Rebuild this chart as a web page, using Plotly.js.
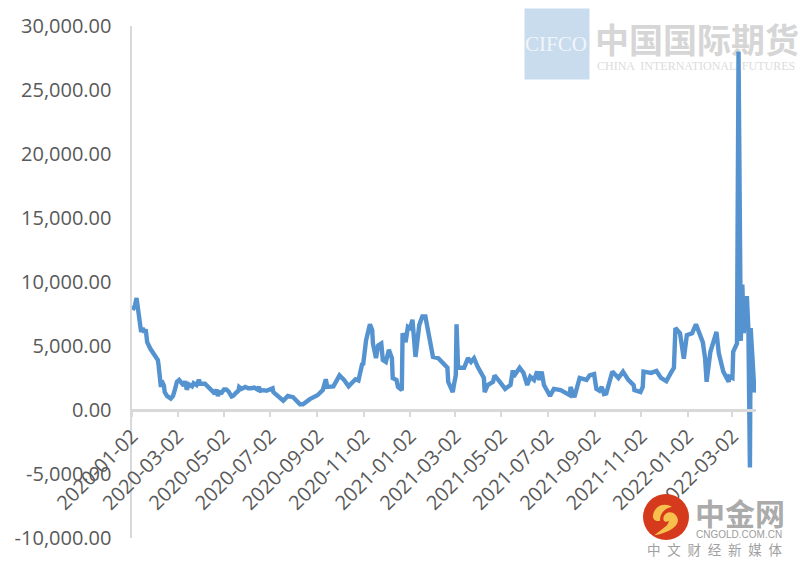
<!DOCTYPE html>
<html>
<head>
<meta charset="utf-8">
<script src="https://cdn.plot.ly/plotly-3.0.1.min.js"></script>
<style>html,body{margin:0;padding:0;background:#fff}#chart{width:800px;height:566px}</style>
</head>
<body>
<div id="chart"></div>
<script>
const dates2020a = ["2020-01-03","2020-01-06","2020-01-08","2020-01-10","2020-01-12","2020-01-14","2020-01-16","2020-01-18","2020-01-20","2020-01-22","2020-01-26","2020-02-01","2020-02-05","2020-02-06","2020-02-08","2020-02-09","2020-02-10","2020-02-13","2020-02-14","2020-02-17","2020-02-22","2020-02-25","2020-02-28","2020-03-01","2020-03-04","2020-03-08","2020-03-10","2020-03-12","2020-03-14","2020-03-17","2020-03-21","2020-03-23","2020-03-27","2020-03-30","2020-04-01","2020-04-07","2020-04-11","2020-04-15","2020-04-18","2020-04-20","2020-04-22","2020-04-24","2020-04-26","2020-04-29","2020-05-02","2020-05-05","2020-05-08","2020-05-12","2020-05-14","2020-05-18","2020-05-21","2020-05-22","2020-05-25","2020-05-30","2020-06-03","2020-06-07","2020-06-11","2020-06-15","2020-06-17","2020-06-19","2020-06-23","2020-06-27","2020-07-01","2020-07-05","2020-07-06","2020-07-11","2020-07-19","2020-07-25","2020-08-01","2020-08-10","2020-08-14","2020-08-23","2020-09-02","2020-09-09","2020-09-13","2020-09-15","2020-09-23","2020-10-01","2020-10-07","2020-10-13"];
const values2020a = [7800,8200,8750,7800,6800,6100,6400,6050,6300,5300,4800,4300,3900,3500,2000,1800,2300,1900,1400,1100,900,1100,1700,2200,2350,2100,1900,2250,1600,2000,1850,2100,1950,2350,2050,2050,1850,1550,1400,1250,1600,1100,1400,1350,1600,1600,1450,1050,1100,1350,1500,1800,1650,1800,1700,1700,1750,1600,1800,1500,1550,1500,1650,1700,1400,1150,730,1100,1000,450,450,850,1150,1550,2400,1800,1850,2700,2350,1850];
const dates2020b = ["2020-10-22","2020-10-26","2020-10-31","2020-11-01","2020-11-05","2020-11-10","2020-11-13","2020-11-14","2020-11-18","2020-11-21","2020-11-25","2020-11-27","2020-12-01","2020-12-05","2020-12-09","2020-12-10","2020-12-15","2020-12-17","2020-12-22","2020-12-23","2020-12-27","2020-12-30"];
const values2020b = [2400,2300,3650,3500,5450,6700,6250,5200,4050,5050,5200,3900,3750,4700,4050,2500,2350,1800,1550,6000,5300,6500];
const dates2021 = ["2021-01-02","2021-01-05","2021-01-09","2021-01-14","2021-01-18","2021-01-22","2021-01-29","2021-02-01","2021-02-08","2021-02-15","2021-02-20","2021-02-21","2021-02-27","2021-03-01","2021-03-03","2021-03-04","2021-03-06","2021-03-14","2021-03-19","2021-03-23","2021-03-27","2021-04-01","2021-04-05","2021-04-09","2021-04-10","2021-04-14","2021-04-21","2021-04-23","2021-04-30","2021-05-07","2021-05-14","2021-05-17","2021-05-18","2021-05-26","2021-05-31","2021-06-05","2021-06-09","2021-06-14","2021-06-18","2021-06-21","2021-06-24","2021-06-27","2021-07-05","2021-07-10","2021-07-19","2021-07-26","2021-07-31","2021-08-01","2021-08-06","2021-08-13","2021-08-22","2021-08-26","2021-09-01","2021-09-04","2021-09-08","2021-09-11","2021-09-14","2021-09-17","2021-09-25","2021-10-03","2021-10-09","2021-10-16","2021-10-23","2021-10-24","2021-11-01","2021-11-04","2021-11-05","2021-11-15","2021-11-22","2021-11-28","2021-12-05","2021-12-11","2021-12-15","2021-12-17","2021-12-20","2021-12-23","2021-12-28"];
const values2021 = [6400,7050,4150,6650,7300,7300,4900,4150,4050,3650,3300,2200,1400,2100,2700,6700,3300,3300,4050,3750,4050,3350,3000,2500,1400,1950,2200,2700,2200,1650,1950,3100,2600,3300,2900,1950,2600,2350,3000,2350,3000,1950,1100,1650,1550,1300,1150,1800,1000,2500,2350,2700,2800,1650,1500,1800,1250,1300,3000,2500,3000,2350,1950,1550,1400,1800,3000,2900,3050,2500,2250,2900,3300,6400,6250,6000,4000];
const dates2022 = ["2022-01-01","2022-01-08","2022-01-13","2022-01-22","2022-01-25","2022-01-27","2022-02-01","2022-02-09","2022-02-12","2022-02-18","2022-02-25","2022-02-26","2022-03-02","2022-03-03","2022-03-08","2022-03-10","2022-03-13","2022-03-15","2022-03-17","2022-03-18","2022-03-20","2022-03-21","2022-03-23","2022-03-25","2022-03-26","2022-03-31","2022-04-01"];
const values2022 = [5850,6000,6700,5300,4050,2200,4550,6100,4450,3000,2200,2600,2500,4550,5200,28000,5400,9800,6000,8300,6200,8900,6300,-4500,6400,1400,1600];
const xTicks = ["2020-01-02","2020-03-02","2020-05-02","2020-07-02","2020-09-02","2020-11-02","2021-01-02","2021-03-02","2021-05-02","2021-07-02","2021-09-02","2021-11-02","2022-01-02","2022-03-02"];
const yTicks = [-10000,-5000,0,5000,10000,15000,20000,25000,30000];
const yLabels = ["-10,000.00","-5,000.00","0.00","5,000.00","10,000.00","15,000.00","20,000.00","25,000.00","30,000.00"];

const dates = [...dates2020a, ...dates2020b, ...dates2021, ...dates2022];
const values = [...values2020a, ...values2020b, ...values2021, ...values2022];

const L = 132, T = 26, W = 624, H = 512;
const px = x => (x - L) / W;
const py = y => (T + H - y) / H;
const zp = (cmd, pts) => cmd + pts.map(p => {
  const x = 600 + p[0] / 3, y = 470 + p[1] / 3;
  return px(x).toFixed(5) + ' ' + py(y).toFixed(5);
}).join(' ');
const note = (x, y, text, size, color, family, extra) => Object.assign({
  xref: 'paper', yref: 'paper', x: px(x), y: py(y), text, showarrow: false,
  xanchor: 'left', yanchor: 'middle', borderpad: 0,
  font: {size, color, family}
}, extra || {});

const swirlTail = zp('M', [[163,196]]) + zp('C', [[215,186],[250,160],[226,134]]) + zp('C', [[214,122],[196,126],[191,140]]) + zp('C', [[187,153],[198,160],[206,152]]) + zp('C', [[208,166],[186,176],[163,196]]) + 'Z';
const swirlBlob = zp('M', [[160,132]]) + zp('C', [[165,106],[196,97],[216,111]]) + zp('C', [[200,113],[180,125],[180,152]]) + zp('C', [[166,156],[155,146],[160,132]]) + 'Z';

const layout = {
  width: 800, height: 566,
  margin: {l: L, r: 800 - L - W, t: T, b: 566 - T - H, pad: 0},
  paper_bgcolor: 'rgba(0,0,0,0)', plot_bgcolor: 'rgba(0,0,0,0)',
  showlegend: false,
  xaxis: {
    type: 'date', range: ['2020-01-02', '2022-04-02'],
    anchor: 'free', position: 0.25,
    tickmode: 'array', tickvals: xTicks, ticktext: xTicks,
    tickangle: -45, ticks: 'outside', ticklen: 5, tickwidth: 2, tickcolor: '#d9d9d9',
    showline: true, linecolor: '#d9d9d9', linewidth: 2.5, showgrid: false, zeroline: false,
    tickfont: {family: '"Open Sans", sans-serif', size: 20, color: '#595959'}
  },
  yaxis: {
    range: [-10000, 30000], tickmode: 'array', tickvals: yTicks, ticktext: yLabels,
    showline: true, linecolor: '#d9d9d9', linewidth: 2.5, showgrid: false, zeroline: false,
    ticks: '', ticklen: 0, ticklabelstandoff: 14,
    tickfont: {family: '"Open Sans", sans-serif', size: 20, color: '#595959'}
  },
  shapes: [
    {type: 'circle', layer: 'above', xref: 'paper', yref: 'paper', x0: px(643), x1: px(689), y0: py(540), y1: py(494), fillcolor: '#d63a1c', line: {width: 0}},
    {type: 'path', layer: 'above', xref: 'paper', yref: 'paper', path: swirlTail, fillcolor: '#f7c04e', line: {width: 0}},
    {type: 'path', layer: 'above', xref: 'paper', yref: 'paper', path: swirlBlob, fillcolor: '#f7c04e', line: {width: 0}}
  ],
  annotations: [
    note(524, 44, 'CIFCO', 21, '#f1f5fa', '"Liberation Serif", serif', {width: 64, height: 70, align: 'left', valign: 'middle', bgcolor: '#c9dcee'}),
    note(594, 38, '中国国际期货', 34, '#d6d6d6', '"Noto Sans CJK SC", sans-serif', {font: {size: 34, color: '#d6d6d6', family: '"Noto Sans CJK SC", sans-serif', weight: 700}}),
    note(596, 66, 'CHINA  INTERNATIONAL  FUTURES', 12, '#dcdcdc', '"Liberation Serif", serif'),
    note(694, 512, '中金网', 30, '#ababab', '"Noto Sans CJK SC", sans-serif', {font: {size: 30, color: '#ababab', family: '"Noto Sans CJK SC", sans-serif', weight: 700}}),
    note(695, 534, 'CNGOLD.COM.CN', 10, '#9c9c9c', '"Liberation Sans", sans-serif'),
    note(646, 549, '中\u2002文\u2002财\u2002经\u2002新\u2002媒\u2002体', 13.5, '#a0a0a0', '"Noto Sans CJK SC", sans-serif')
  ]
};

Plotly.newPlot('chart', [{
  type: 'scatter', mode: 'lines', x: dates, y: values,
  line: {color: '#5593d0', width: 4.4, shape: 'linear'},
  cliponaxis: false, hoverinfo: 'skip'
}], layout, {displayModeBar: false, staticPlot: true}).then(gd => {
  // the reference's line runs over its watermark, so the annotations go under the plot
  const cart = gd.querySelector('.cartesianlayer');
  cart.parentNode.insertBefore(gd.querySelector('.infolayer'), cart);
});
</script>
</body>
</html>
